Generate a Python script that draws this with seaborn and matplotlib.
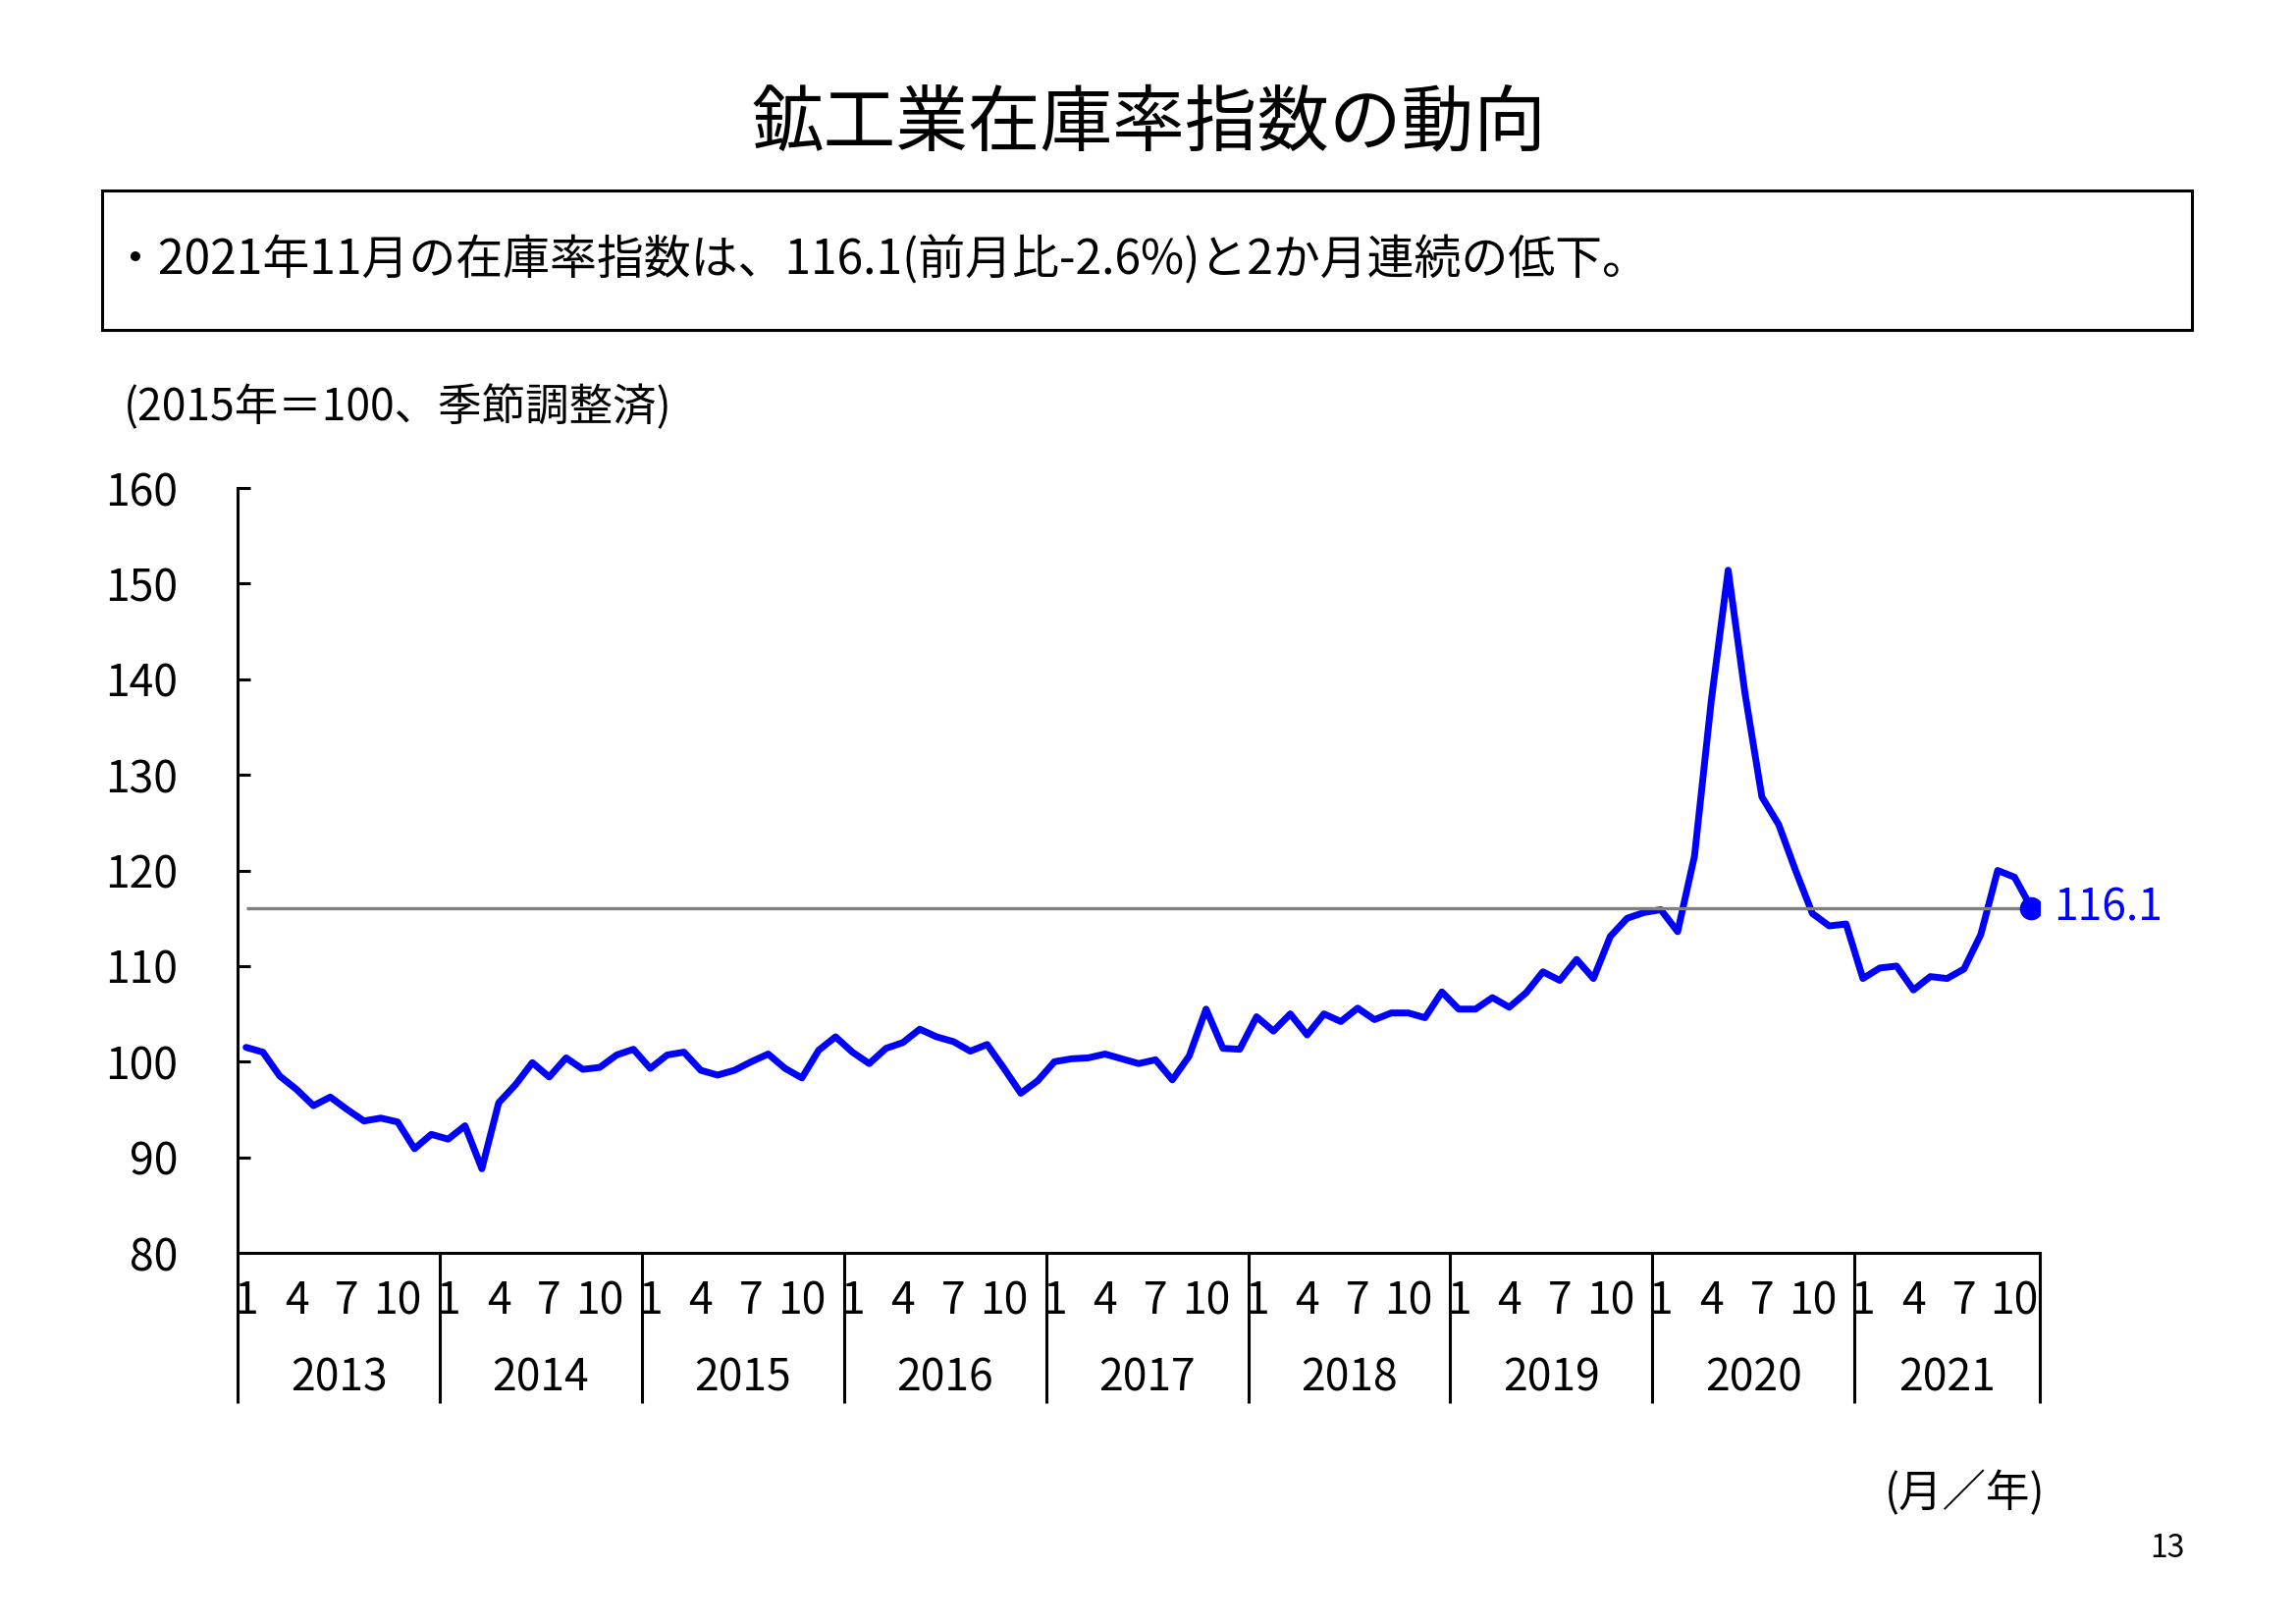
import numpy as np
import pandas as pd
import matplotlib
matplotlib.use("Agg")
import matplotlib.pyplot as plt
import matplotlib.transforms as mtransforms
from matplotlib.patches import Rectangle
import seaborn as sns

# ---- data (monthly, Jan 2013 - Nov 2021, 2015=100, seasonally adjusted) ----
years = ["2013", "2014", "2015", "2016", "2017", "2018", "2019", "2020", "2021"]
month_labels = ["1", "4", "7", "10"]
vals_2013 = [101.5, 101.0, 98.5, 97.1, 95.4, 96.3, 95.0, 93.8, 94.1, 93.7, 90.9, 92.4]
vals_2014 = [91.9, 93.3, 88.8, 95.7, 97.6, 99.9, 98.4, 100.4, 99.2, 99.4, 100.7, 101.3]
vals_2015 = [99.3, 100.7, 101.0, 99.1, 98.6, 99.1, 100.0, 100.8, 99.3, 98.3, 101.2, 102.6]
vals_2016 = [101.0, 99.8, 101.4, 102.0, 103.4, 102.6, 102.1, 101.1, 101.8, 99.3, 96.7, 98.0]
vals_2017 = [100.0, 100.3, 100.4, 100.8, 100.3, 99.8, 100.2, 98.1, 100.6, 105.5, 101.4, 101.3]
vals_2018 = [104.7, 103.2, 105.0, 102.8, 105.0, 104.2, 105.6, 104.4, 105.1, 105.1, 104.6, 107.3]
vals_2019 = [105.5, 105.5, 106.7, 105.7, 107.2, 109.4, 108.5, 110.7, 108.7, 113.1, 115.0, 115.6]
vals_2020 = [115.9, 113.6, 121.5, 137.8, 151.4, 138.5, 127.7, 124.8, 120.0, 115.5, 114.2, 114.4]
vals_2021 = [108.7, 109.8, 110.0, 107.5, 108.9, 108.7, 109.7, 113.3, 120.0, 119.3, 116.1]
latest_label = "116.1"

title = "鉱工業在庫率指数の動向"
box_text = "・2021年11月の在庫率指数は、116.1(前月比-2.6%)と2か月連続の低下。"
unit_text = "(2015年＝100、季節調整済)"
xunit_text = "(月／年)"
page_no = "13"

all_years = [vals_2013, vals_2014, vals_2015, vals_2016, vals_2017,
             vals_2018, vals_2019, vals_2020, vals_2021]
values = [v for yr in all_years for v in yr]
n = len(values)
df = pd.DataFrame({"idx": np.arange(n), "value": values})
latest = values[-1]

# ---- style ----
sns.set_theme(style="white")
plt.rcParams["font.family"] = ["Noto Sans CJK JP", "DejaVu Sans"]

BLUE = "#0000FF"
GRAY = "#808080"
FS = 32

fig = plt.figure(figsize=(23.39, 16.54), dpi=100)
fig.patch.set_facecolor("white")
ax = fig.add_axes([0.1035, 0.2285, 0.7849, 0.471])
ax.set_facecolor("white")

sns.lineplot(data=df, x="idx", y="value", color=BLUE, linewidth=5.0, ax=ax, zorder=2)
ax.plot([0, n - 1], [latest, latest], color=GRAY, lw=2.4, zorder=3, solid_capstyle="butt")
ax.plot([n - 1], [latest], "o", color=BLUE, mec=BLUE, mew=0, ms=17, zorder=4)
ax.text(n - 1 + 1.3, latest, latest_label, color=BLUE, fontsize=FS, va="center", ha="left")

ax.set_xlim(-0.5, n - 0.5)
ax.set_ylim(80, 160)
ax.set_yticks(range(80, 161, 10))
ax.set_xticks([])
ax.set_xlabel("")
ax.set_ylabel("")
ax.tick_params(axis="y", direction="in", length=9.5, width=2.2, labelsize=FS,
               pad=44, left=True, colors="black")
for s in ["top", "right"]:
    ax.spines[s].set_visible(False)
for s in ["left", "bottom"]:
    ax.spines[s].set_visible(True)
    ax.spines[s].set_color("black")
    ax.spines[s].set_linewidth(2.2)

trans = mtransforms.blended_transform_factory(ax.transData, ax.transAxes)
bounds = [-0.5 + 12 * k for k in range(len(years))] + [n - 0.5]
for b in bounds:
    ax.plot([b, b], [0, -0.196], transform=trans, color="black", lw=2.2,
            clip_on=False, solid_capstyle="butt")

for k, yr in enumerate(years):
    for m, lab in zip([0, 3, 6, 9], month_labels):
        i = 12 * k + m
        if i < n:
            ax.text(i, -0.063, lab, transform=trans, ha="center", va="center",
                    fontsize=FS, color="black")
    first = 12 * k
    last = min(12 * k + 11, n - 1)
    ax.text((first + last) / 2, -0.164, yr, transform=trans, ha="center",
            va="center", fontsize=FS, color="black")

# ---- figure texts ----
fig.text(0.5006, 1 - 127 / 1654, title, ha="center", va="center", fontsize=53, color="black")
fig.patches.append(Rectangle((104 / 2339, 1 - 336 / 1654), (2233 - 104) / 2339,
                             (336 - 194) / 1654, transform=fig.transFigure,
                             fill=False, edgecolor="black", linewidth=2.2))
fig.text(113 / 2339, 1 - 265 / 1654, box_text, ha="left", va="center", fontsize=34.5, color="black")
fig.text(126 / 2339, 1 - 415 / 1654, unit_text, ha="left", va="center", fontsize=32, color="black")
fig.text(2084 / 2339, 1 - 1521 / 1654, xunit_text, ha="right", va="center", fontsize=32, color="black")
fig.text(2226 / 2339, 1 - 1577 / 1654, page_no, ha="right", va="center", fontsize=23, color="black")

fig.savefig("out.png", dpi=100, facecolor="white")
